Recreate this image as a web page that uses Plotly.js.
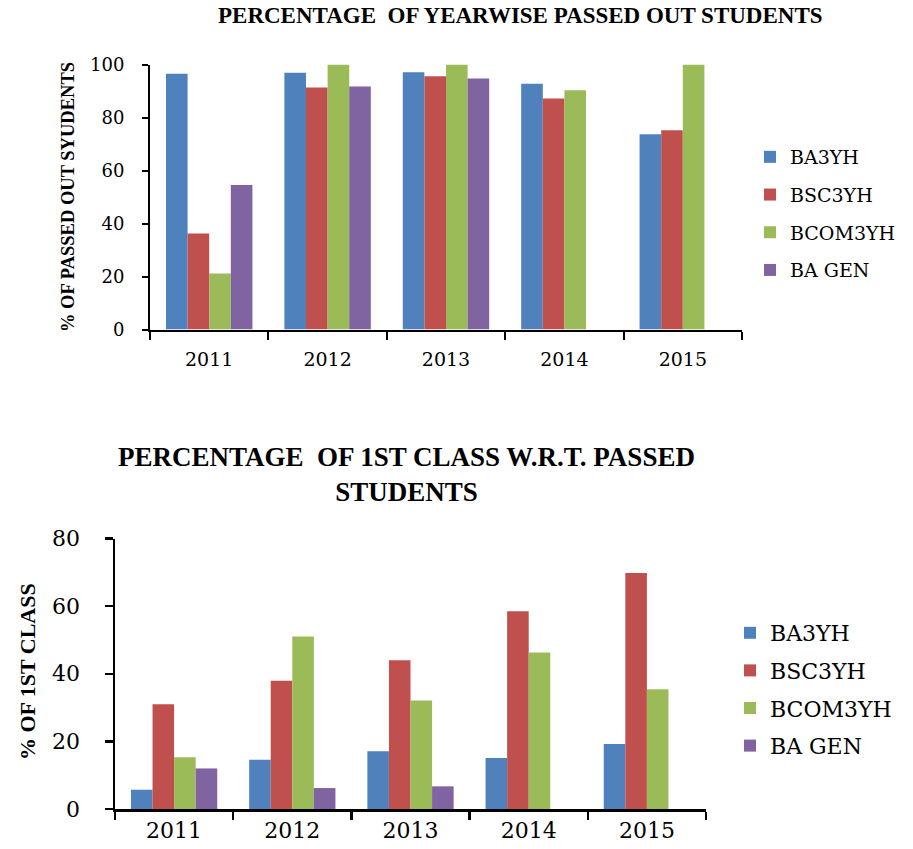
<!DOCTYPE html>
<html>
<head>
<meta charset="utf-8">
<script src="https://cdn.plot.ly/plotly-3.0.1.min.js"></script>
<style>
html,body{margin:0;padding:0;background:#fff;}
#chart{width:913px;height:849px;}
</style>
</head>
<body>
<div id="chart"></div>
<script>
// ---- data ----
const years = ["2011", "2012", "2013", "2014", "2015"];
const seriesNames = ["BA3YH", "BSC3YH", "BCOM3YH", "BA GEN"];

// Percentage of yearwise passed out students
const passBA3YH   = [96.5, 96.9, 97.1, 92.7, 73.7];
const passBSC3YH  = [36.2, 91.3, 95.6, 87.2, 75.2];
const passBCOM3YH = [21.1, 100, 100, 90.3, 100];
const passBAGEN   = [54.5, 91.7, 94.7, null, null];

// Percentage of 1st class w.r.t. passed students
const firstBA3YH   = [5.7, 14.6, 17.1, 15.1, 19.2];
const firstBSC3YH  = [31.0, 37.9, 44.0, 58.5, 69.8];
const firstBCOM3YH = [15.3, 51.0, 32.1, 46.3, 35.4];
const firstBAGEN   = [12.0, 6.2, 6.7, null, null];

const topTitle = "PERCENTAGE  OF YEARWISE PASSED OUT STUDENTS";
const bottomTitle = "PERCENTAGE  OF 1ST CLASS W.R.T. PASSED<br>STUDENTS";
const topYTitle = "% OF PASSED OUT SYUDENTS";
const bottomYTitle = "% OF 1ST CLASS";

// ---- styles ----
const colors = ["#4F81BD", "#C0504D", "#9BBB59", "#8064A2"];
const tickFont = "DejaVu Serif, serif";
const titleFont = "Liberation Serif, serif";

const topVals = [passBA3YH, passBSC3YH, passBCOM3YH, passBAGEN];
const botVals = [firstBA3YH, firstBSC3YH, firstBCOM3YH, firstBAGEN];

const traces = [];
topVals.forEach((v, i) => {
  traces.push({
    type: "bar", x: years, y: v, name: seriesNames[i],
    marker: {color: colors[i]},
    xaxis: "x", yaxis: "y", legend: "legend", legendgroup: "t" + i
  });
});
botVals.forEach((v, i) => {
  traces.push({
    type: "bar", x: years, y: v, name: seriesNames[i],
    marker: {color: colors[i]},
    xaxis: "x2", yaxis: "y2", legend: "legend2", legendgroup: "b" + i
  });
});

const axisCommon = {
  showgrid: false, zeroline: false, showline: true,
  linecolor: "#000", linewidth: 2, ticks: "outside",
  tickcolor: "#000", tickwidth: 2, fixedrange: true
};

const layout = {
  width: 913, height: 849,
  margin: {l: 0, r: 0, t: 0, b: 0},
  paper_bgcolor: "#fff", plot_bgcolor: "#fff",
  barmode: "group", bargap: 0.27, bargroupgap: 0,
  showlegend: true,
  xaxis: Object.assign({}, axisCommon, {
    domain: [150/913, 742/913], anchor: "y", type: "category",
    tickson: "boundaries", ticklen: 8, ticklabelstandoff: 12,
    tickfont: {family: tickFont, size: 19, color: "#000"}
  }),
  yaxis: Object.assign({}, axisCommon, {
    domain: [1 - 329.5/849, 1 - 64.5/849], anchor: "x",
    range: [0, 100], dtick: 20, ticklen: 6, ticklabelstandoff: 14,
    tickfont: {family: tickFont, size: 18, color: "#000"}
  }),
  xaxis2: Object.assign({}, axisCommon, {
    domain: [115/913, 706/913], anchor: "y2", type: "category",
    tickson: "boundaries", ticklen: 8, linewidth: 2.5, tickwidth: 2.5,
    tickfont: {family: tickFont, size: 22, color: "#000"}
  }),
  yaxis2: Object.assign({}, axisCommon, {
    domain: [1 - 809/849, 1 - 538.5/849], anchor: "x2",
    range: [0, 80], dtick: 20, ticklen: 8, ticklabelstandoff: 20,
    linewidth: 2.5, tickwidth: 2.5,
    tickfont: {family: tickFont, size: 22, color: "#000"}
  }),
  legend: {
    x: 750/913, xanchor: "left", y: 1 - 138/849, yanchor: "top",
    traceorder: "grouped", tracegroupgap: 10,
    font: {family: tickFont, size: 19, color: "#000"},
    bgcolor: "rgba(0,0,0,0)"
  },
  legend2: {
    x: 730/913, xanchor: "left", y: 1 - 612/849, yanchor: "top",
    traceorder: "grouped", tracegroupgap: 6,
    font: {family: tickFont, size: 22, color: "#000"},
    bgcolor: "rgba(0,0,0,0)"
  },
  annotations: [
    {text: "<b>" + topTitle + "</b>", xref: "paper", yref: "paper",
     x: 520/913, y: 1 - 15/849, xanchor: "center", yanchor: "middle",
     showarrow: false, font: {family: titleFont, size: 23, color: "#000"}},
    {text: "<b>" + bottomTitle + "</b>", xref: "paper", yref: "paper",
     x: 406/913, y: 1 - 474/849, xanchor: "center", yanchor: "middle",
     showarrow: false, font: {family: titleFont, size: 27, color: "#000"}},
    {text: "<b>" + topYTitle + "</b>", xref: "paper", yref: "paper",
     x: 68/913, y: 1 - 197/849, xanchor: "center", yanchor: "middle",
     textangle: -90, showarrow: false,
     font: {family: titleFont, size: 18.5, color: "#000"}},
    {text: "<b>" + bottomYTitle + "</b>", xref: "paper", yref: "paper",
     x: 27/913, y: 1 - 672/849, xanchor: "center", yanchor: "middle",
     textangle: -90, showarrow: false,
     font: {family: titleFont, size: 22, color: "#000"}}
  ]
};

Plotly.newPlot("chart", traces, layout, {displayModeBar: false, staticPlot: true});
</script>
</body>
</html>
